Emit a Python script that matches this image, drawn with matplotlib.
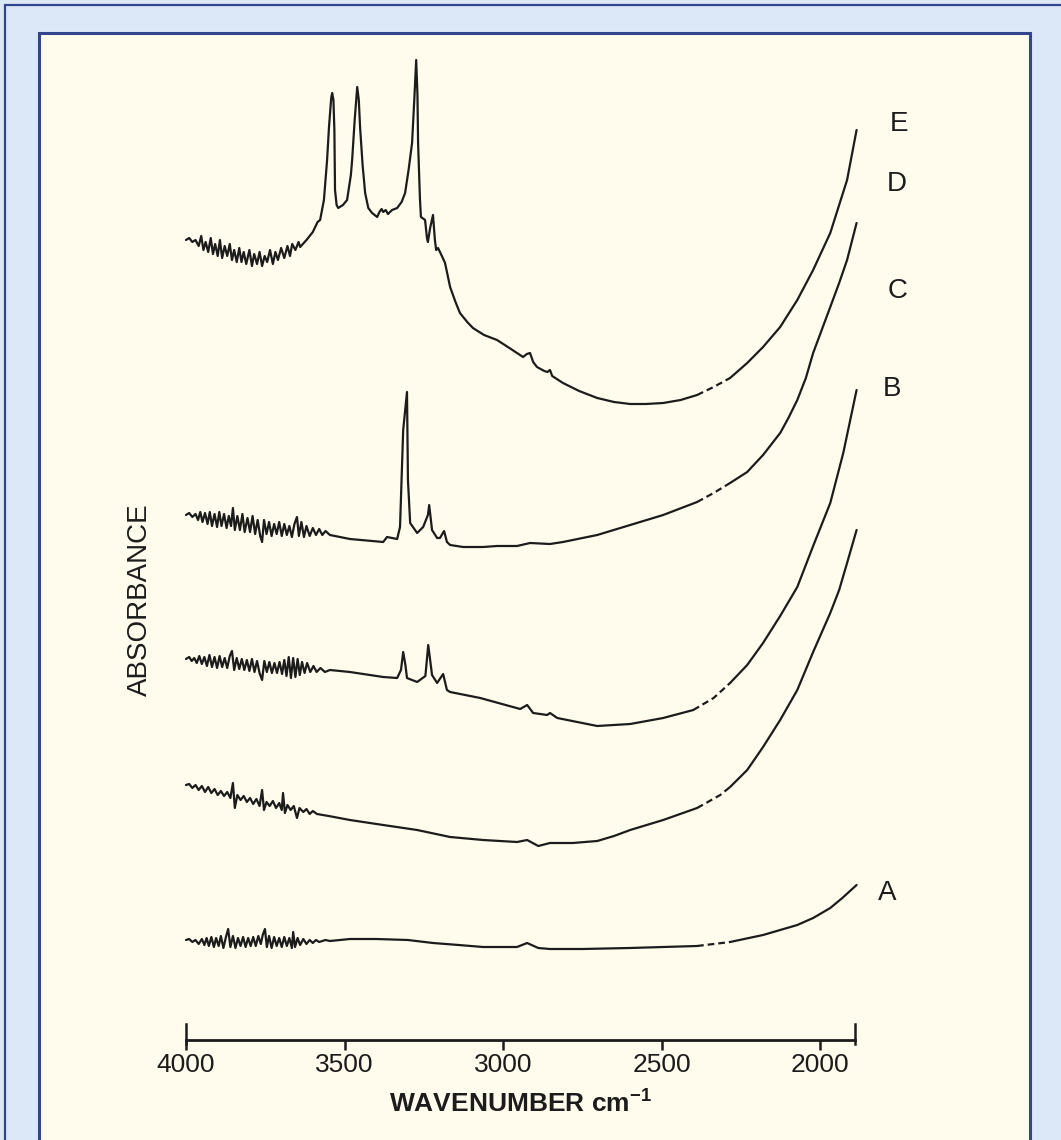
import numpy as np
import matplotlib
matplotlib.use("Agg")
import matplotlib.pyplot as plt
from matplotlib.patches import Rectangle

plt.rcParams['font.family'] = ['Liberation Sans', 'DejaVu Sans']

# ---------------- data (wavenumber cm-1, absorbance in arbitrary offset units) ----------------
E_points = [(4000, 8.00), (3990, 8.02), (3980, 7.98), (3970, 8.00), (3960, 7.94), (3952, 8.04), (3945, 7.90),
            (3938, 7.98), (3930, 7.88), (3922, 8.02), (3915, 7.86), (3908, 7.96), (3900, 7.84), (3893, 8.00),
            (3886, 7.82), (3878, 7.94), (3870, 7.84), (3862, 7.96), (3855, 7.80), (3848, 7.90), (3840, 7.78),
            (3832, 7.92), (3825, 7.78), (3818, 7.88), (3810, 7.76), (3800, 7.90), (3792, 7.74), (3785, 7.86),
            (3776, 7.76), (3768, 7.88), (3760, 7.74), (3752, 7.84), (3744, 7.78), (3735, 7.90), (3726, 7.76),
            (3718, 7.88), (3710, 7.80), (3700, 7.92), (3690, 7.82), (3680, 7.94), (3672, 7.84), (3665, 7.96),
            (3655, 7.90), (3645, 7.98), (3640, 7.93),
            (3620, 8.00), (3600, 8.08), (3585, 8.18), (3577, 8.20), (3565, 8.40), (3555, 8.80), (3549, 9.13),
            (3542, 9.42), (3539, 9.47), (3535, 9.40), (3532, 9.10), (3530, 8.50), (3525, 8.35), (3520, 8.32),
            (3505, 8.35), (3492, 8.40), (3480, 8.65), (3476, 8.80), (3468, 9.20), (3460, 9.53), (3455, 9.40),
            (3451, 9.13), (3443, 8.75), (3435, 8.47), (3425, 8.32), (3413, 8.27), (3397, 8.23), (3390, 8.28),
            (3383, 8.31), (3378, 8.28), (3370, 8.30), (3363, 8.26), (3350, 8.30), (3334, 8.32), (3320, 8.38),
            (3309, 8.47), (3298, 8.70), (3287, 8.97), (3280, 9.40), (3274, 9.80), (3270, 9.45), (3268, 8.97),
            (3262, 8.40), (3259, 8.23), (3246, 8.20), (3240, 8.02), (3237, 7.98), (3230, 8.12), (3221, 8.25),
            (3215, 8.00), (3211, 7.90), (3205, 7.92), (3199, 7.88), (3190, 7.82), (3183, 7.77), (3175, 7.65),
            (3167, 7.53), (3150, 7.38), (3136, 7.27), (3113, 7.18), (3095, 7.12), (3060, 7.05), (3019, 7.00),
            (2980, 6.92), (2937, 6.83), (2925, 6.86), (2915, 6.87), (2905, 6.78), (2893, 6.73), (2870, 6.69),
            (2860, 6.68), (2852, 6.70), (2845, 6.64), (2811, 6.57), (2760, 6.49), (2703, 6.42), (2650, 6.38),
            (2599, 6.36), (2550, 6.36), (2495, 6.37), (2440, 6.40), (2388, 6.45), (2336, 6.53), (2284, 6.62),
            (2230, 6.77), (2180, 6.93), (2126, 7.13), (2072, 7.40), (2022, 7.70), (1968, 8.07), (1940, 8.35),
            (1915, 8.60), (1885, 9.10)]

D_points = [(4000, 5.25), (3990, 5.27), (3980, 5.23), (3970, 5.26), (3962, 5.20), (3955, 5.28), (3948, 5.18),
            (3940, 5.27), (3932, 5.16), (3925, 5.28), (3918, 5.14), (3910, 5.26), (3902, 5.13), (3895, 5.28),
            (3888, 5.14), (3880, 5.26), (3872, 5.12), (3865, 5.24), (3858, 5.14), (3852, 5.32), (3846, 5.10),
            (3838, 5.24), (3830, 5.10), (3822, 5.26), (3815, 5.08), (3806, 5.22), (3798, 5.08), (3790, 5.24),
            (3782, 5.06), (3774, 5.20), (3766, 5.04), (3760, 4.98), (3754, 5.20), (3746, 5.06), (3738, 5.18),
            (3730, 5.04), (3722, 5.16), (3714, 5.06), (3706, 5.18), (3698, 5.04), (3690, 5.16), (3682, 5.05),
            (3674, 5.14), (3666, 5.03), (3658, 5.16), (3650, 5.23), (3644, 5.04), (3636, 5.18), (3628, 5.03),
            (3620, 5.14), (3610, 5.04), (3600, 5.12), (3590, 5.05), (3580, 5.11), (3570, 5.05), (3560, 5.09),
            (3546, 5.05),
            (3483, 5.01), (3378, 4.98), (3366, 5.03), (3334, 5.01), (3325, 5.13), (3315, 6.10), (3303, 6.48),
            (3300, 5.60), (3293, 5.17), (3271, 5.07), (3252, 5.13), (3237, 5.25), (3233, 5.35), (3224, 5.10),
            (3208, 5.02), (3199, 5.02), (3186, 5.09), (3177, 4.98), (3167, 4.95), (3126, 4.93), (3063, 4.93),
            (3019, 4.94), (2956, 4.94), (2915, 4.97), (2852, 4.96), (2811, 4.98), (2703, 5.05), (2599, 5.15),
            (2495, 5.25), (2388, 5.38), (2336, 5.47), (2284, 5.57), (2230, 5.68), (2180, 5.85), (2126, 6.07),
            (2100, 6.22), (2072, 6.40), (2045, 6.62), (2022, 6.87), (1995, 7.10), (1968, 7.33), (1940, 7.57),
            (1915, 7.80), (1885, 8.17)]

C_points = [(4000, 3.81), (3990, 3.83), (3982, 3.79), (3974, 3.82), (3966, 3.77), (3958, 3.84), (3950, 3.76),
            (3942, 3.83), (3934, 3.74), (3926, 3.85), (3918, 3.73), (3910, 3.83), (3902, 3.72), (3894, 3.84),
            (3886, 3.73), (3878, 3.82), (3870, 3.72), (3862, 3.84), (3855, 3.89), (3848, 3.70), (3840, 3.82),
            (3832, 3.71), (3824, 3.81), (3816, 3.70), (3808, 3.80), (3800, 3.69), (3792, 3.81), (3784, 3.68),
            (3776, 3.79), (3768, 3.67), (3760, 3.60), (3753, 3.79), (3745, 3.68), (3737, 3.78), (3729, 3.67),
            (3721, 3.77), (3713, 3.67), (3705, 3.78), (3697, 3.66), (3690, 3.80), (3683, 3.64), (3676, 3.83),
            (3669, 3.62), (3662, 3.82), (3655, 3.63), (3648, 3.81), (3641, 3.65), (3634, 3.78), (3626, 3.67),
            (3618, 3.77), (3608, 3.68), (3598, 3.74), (3588, 3.68), (3576, 3.72), (3562, 3.68), (3546, 3.70),
            (3483, 3.68), (3378, 3.63), (3334, 3.62), (3322, 3.70), (3315, 3.88), (3308, 3.75), (3303, 3.62),
            (3271, 3.58), (3245, 3.64), (3236, 3.95), (3228, 3.75), (3224, 3.65), (3208, 3.57), (3189, 3.66),
            (3177, 3.50), (3167, 3.48), (3072, 3.42), (2946, 3.31), (2924, 3.35), (2905, 3.27), (2861, 3.25),
            (2852, 3.27), (2829, 3.22), (2703, 3.14), (2599, 3.16), (2495, 3.22), (2400, 3.30), (2336, 3.42),
            (2284, 3.57), (2230, 3.75), (2180, 3.97), (2126, 4.24), (2072, 4.53), (2022, 4.94), (1968, 5.37),
            (1927, 5.87), (1905, 6.20), (1885, 6.50)]

B_points = [(4000, 2.55), (3990, 2.56), (3980, 2.52), (3970, 2.55), (3960, 2.50), (3950, 2.54), (3940, 2.48),
            (3930, 2.53), (3920, 2.47), (3910, 2.51), (3900, 2.45), (3890, 2.49), (3880, 2.44), (3870, 2.48),
            (3860, 2.42), (3852, 2.57), (3846, 2.32), (3838, 2.45), (3828, 2.40), (3818, 2.44), (3808, 2.38),
            (3798, 2.42), (3788, 2.36), (3778, 2.41), (3768, 2.34), (3760, 2.50), (3754, 2.30), (3746, 2.38),
            (3736, 2.34), (3726, 2.39), (3716, 2.32), (3706, 2.37), (3698, 2.30), (3694, 2.47), (3688, 2.27),
            (3680, 2.35), (3670, 2.30), (3660, 2.34), (3650, 2.22), (3642, 2.32), (3630, 2.28), (3620, 2.31),
            (3610, 2.26), (3600, 2.29), (3587, 2.26), (3550, 2.24), (3483, 2.20), (3420, 2.17), (3378, 2.15),
            (3271, 2.10), (3167, 2.03), (3063, 2.00), (2956, 1.98), (2924, 2.00), (2889, 1.94), (2852, 1.97),
            (2780, 1.97), (2703, 1.99), (2650, 2.04), (2599, 2.10), (2495, 2.20), (2388, 2.32), (2315, 2.45),
            (2284, 2.53), (2230, 2.70), (2180, 2.93), (2126, 3.20), (2072, 3.50), (2022, 3.88), (1968, 4.27),
            (1940, 4.50), (1915, 4.77), (1885, 5.10)]

A_points = [(4000, 1.00), (3990, 1.01), (3980, 0.98), (3970, 1.00), (3960, 0.96), (3950, 1.01), (3942, 0.95),
            (3935, 1.02), (3928, 0.94), (3920, 1.03), (3912, 0.93), (3905, 1.02), (3897, 0.94), (3890, 1.04),
            (3882, 0.92), (3874, 1.03), (3867, 1.11), (3860, 0.93), (3852, 1.04), (3844, 0.92), (3836, 1.02),
            (3828, 0.94), (3820, 1.03), (3812, 0.93), (3804, 1.02), (3796, 0.94), (3788, 1.03), (3780, 0.94),
            (3772, 1.04), (3764, 0.96), (3758, 1.05), (3751, 1.11), (3745, 0.93), (3738, 1.04), (3730, 0.92),
            (3722, 1.03), (3714, 0.94), (3706, 1.02), (3698, 0.93), (3690, 1.03), (3682, 0.94), (3674, 1.02),
            (3666, 0.92), (3662, 1.08), (3656, 0.93), (3648, 1.02), (3640, 0.95), (3630, 1.01), (3620, 0.96),
            (3610, 1.00), (3600, 0.97), (3590, 1.00), (3580, 0.98), (3560, 1.00), (3546, 0.99),
            (3483, 1.01), (3400, 1.01), (3300, 1.00), (3221, 0.97), (3140, 0.95), (3063, 0.93), (2956, 0.93),
            (2924, 0.97), (2889, 0.92), (2852, 0.91), (2750, 0.91), (2600, 0.92), (2495, 0.93), (2388, 0.94),
            (2284, 0.98), (2180, 1.05), (2072, 1.15), (2022, 1.22), (1968, 1.32), (1930, 1.42), (1885, 1.55)]

trace_names = ["A", "B", "C", "D", "E"]
traces = {"A": A_points, "B": B_points, "C": C_points, "D": D_points, "E": E_points}

x_ticks = [4000, 3500, 3000, 2500, 2000]
x_tick_labels = ["4000", "3500", "3000", "2500", "2000"]
x_limits = (4000, 1890)

# --------------- styling ----------------
W, H = 1061, 1140
BAND = '#dce8f8'
CREAM = '#fffcee'
NAVY = '#33458c'
INK = '#1c1c1c'
DASH_RANGE = (2400, 2284)   # section of each trace printed broken (dashed)

# label positions (figure pixel coords)
label_pos = {"E": (899, 124), "D": (897, 184), "C": (898, 291), "B": (892, 389), "A": (887, 893)}

fig = plt.figure(figsize=(W / 100, H / 100), dpi=100, facecolor=BAND)

# outer thin navy frame and cream panel
fig.patches.append(Rectangle((5 / W, -0.1), 1.2, 1.1 - 5 / H, transform=fig.transFigure,
                             facecolor='none', edgecolor=NAVY, lw=1.6, zorder=-5))
fig.patches.append(Rectangle((39 / W, -0.1), (1030 - 39) / W, 1.1 - 33 / H, transform=fig.transFigure,
                             facecolor=CREAM, edgecolor=NAVY, lw=2.2, zorder=-4))

ax = fig.add_axes([186 / W, 100 / H, (855 - 186) / W, 1000 / H])
ax.set_zorder(5)
ax.set_facecolor('none')
ax.set_xlim(*x_limits)
ax.set_ylim(0, 10)

for name in trace_names:
    arr = np.array(traces[name])
    w, v = arr[:, 0], arr[:, 1]
    i0 = int(np.argmax(w <= DASH_RANGE[0]))
    i1 = int(np.where(w >= DASH_RANGE[1])[0][-1])
    kw = dict(color=INK, lw=1.6, solid_joinstyle='round', solid_capstyle='round', clip_on=False)
    ax.plot(w[:i0 + 1], v[:i0 + 1], **kw)
    ax.plot(w[i0:i1 + 1], v[i0:i1 + 1], color=INK, lw=1.6, dashes=(3, 1.8), clip_on=False)
    ax.plot(w[i1:], v[i1:], **kw)

for s in ['left', 'right', 'top']:
    ax.spines[s].set_visible(False)
ax.spines['bottom'].set_linewidth(2.0)
ax.spines['bottom'].set_color(INK)
ax.set_yticks([])
ax.set_xticks(x_ticks)
ax.set_xticklabels(x_tick_labels)
ax.tick_params(axis='x', which='major', direction='out', length=7, width=1.8, color=INK,
               labelsize=19, pad=2, labelcolor=INK)
# upward end ticks at both ends of the scale bar
for xe in x_limits:
    ax.axvline(xe, ymin=-0.004, ymax=0.016, color=INK, lw=1.8, clip_on=False)

ax.set_xlabel(r'WAVENUMBER cm$^{\mathregular{-1}}$', fontsize=19, fontweight='bold', color=INK, labelpad=9)

fig.text(140 / W, 1 - 600 / H, 'ABSORBANCE', rotation=90, fontsize=20, ha='center', va='center', color=INK)

for name, (px, py) in label_pos.items():
    fig.text(px / W, 1 - py / H, name, fontsize=20, ha='center', va='center', color=INK)

fig.savefig('out.png', dpi=100, facecolor=fig.get_facecolor())
